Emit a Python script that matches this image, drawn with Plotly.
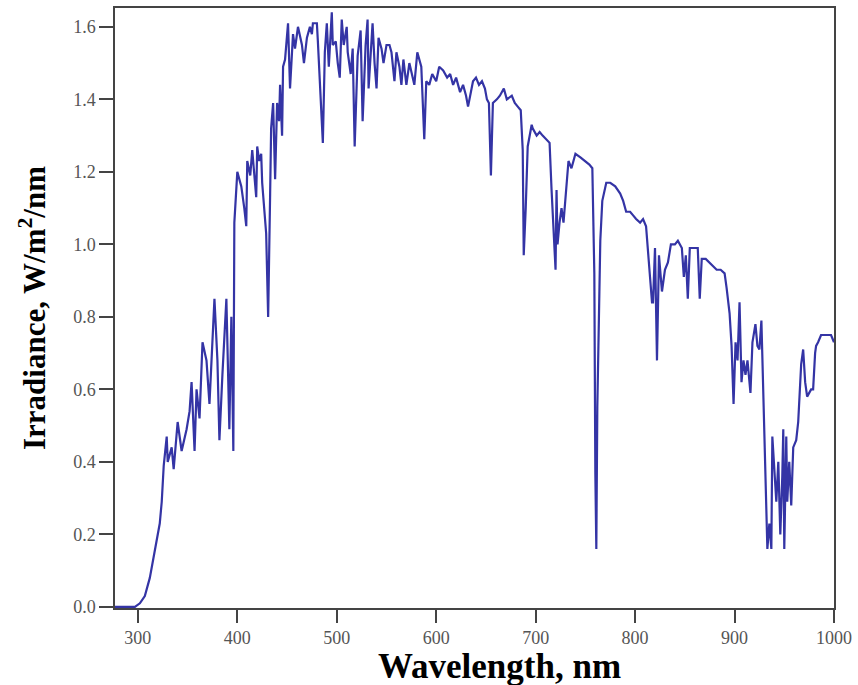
import plotly.graph_objects as go

# Solar spectral irradiance, wavelength in nm and irradiance in W/m^2/nm
wavelength_nm = [
    277, 290, 297, 302, 307, 312, 317, 322, 324, 326, 329, 330, 334, 336, 340, 344,
    349, 352, 354, 357, 359, 362, 365, 369, 372, 377, 380, 382, 385, 389, 392, 394,
    396, 397, 400, 404, 407, 409, 410, 413, 415, 417, 419, 420, 422, 424, 425, 429,
    431, 433, 434, 436, 438, 440, 442, 443, 445, 446, 448, 451, 453, 456, 458, 461,
    465, 467, 470, 473, 475, 476, 480, 481, 483, 486, 488, 490, 492, 495, 496, 499,
    501, 503, 505, 507, 510, 511, 514, 516, 518, 520, 521, 524, 526, 529, 531, 532,
    535, 536, 538, 540, 542, 545, 547, 550, 553, 555, 558, 560, 563, 565, 567, 570,
    573, 576, 578, 581, 585, 588, 590, 593, 596, 600, 603, 607, 611, 614, 617, 620,
    624, 627, 630, 632, 634, 637, 640, 643, 646, 649, 651, 653, 655, 657, 661, 664,
    668, 671, 676, 679, 682, 685, 687, 688, 690, 692, 696, 697, 701, 704, 707, 711,
    714, 716, 718, 720, 721, 722, 724, 726, 728, 730, 733, 736, 740, 745, 750, 754,
    757, 759, 760, 761, 762, 763, 765, 767, 771, 775, 780, 785, 788, 791, 795, 798,
    801, 805, 808, 811, 813, 815, 817, 818, 820, 822, 824, 827, 830, 833, 836, 840,
    843, 847, 849, 851, 853, 855, 859, 863, 865, 867, 871, 875, 878, 882, 886, 890,
    892, 895, 897, 899, 901, 903, 905, 907, 909, 911, 913, 916, 918, 921, 923, 925,
    927, 929, 930, 932, 933, 935, 937, 938, 940, 942, 944, 946, 948, 949, 950, 952,
    953, 955, 957, 959, 962, 964, 967, 969, 971, 973, 977, 979, 981, 982, 984, 987,
    990, 993, 997, 1000,
]
irradiance = [
    0.00, 0.00, 0.00, 0.01, 0.03, 0.08, 0.16, 0.23, 0.29, 0.39, 0.47, 0.40, 0.44, 0.38, 0.51, 0.43,
    0.49, 0.54, 0.62, 0.43, 0.60, 0.52, 0.73, 0.68, 0.56, 0.85, 0.68, 0.46, 0.64, 0.85, 0.49, 0.80,
    0.43, 1.06, 1.20, 1.16, 1.10, 1.05, 1.23, 1.19, 1.26, 1.18, 1.13, 1.27, 1.23, 1.25, 1.17, 1.03,
    0.80, 1.14, 1.32, 1.39, 1.18, 1.39, 1.34, 1.44, 1.30, 1.49, 1.51, 1.61, 1.43, 1.58, 1.54, 1.60,
    1.55, 1.50, 1.57, 1.60, 1.58, 1.61, 1.61, 1.56, 1.45, 1.28, 1.53, 1.61, 1.49, 1.64, 1.55, 1.56,
    1.50, 1.46, 1.62, 1.55, 1.60, 1.53, 1.47, 1.54, 1.27, 1.48, 1.52, 1.59, 1.34, 1.55, 1.62, 1.43,
    1.56, 1.61, 1.50, 1.43, 1.57, 1.54, 1.50, 1.55, 1.55, 1.53, 1.45, 1.53, 1.49, 1.44, 1.51, 1.44,
    1.50, 1.46, 1.44, 1.53, 1.49, 1.29, 1.45, 1.44, 1.47, 1.45, 1.49, 1.48, 1.46, 1.47, 1.44, 1.46,
    1.42, 1.44, 1.41, 1.38, 1.41, 1.45, 1.46, 1.44, 1.45, 1.43, 1.40, 1.39, 1.19, 1.39, 1.40, 1.41,
    1.43, 1.40, 1.41, 1.39, 1.38, 1.37, 1.26, 0.97, 1.10, 1.27, 1.33, 1.32, 1.30, 1.31, 1.30, 1.29,
    1.28, 1.15, 1.02, 0.93, 1.15, 1.00, 1.06, 1.10, 1.06, 1.13, 1.23, 1.21, 1.25, 1.24, 1.23, 1.22,
    1.21, 0.92, 0.37, 0.16, 0.55, 0.73, 1.01, 1.12, 1.17, 1.17, 1.16, 1.14, 1.12, 1.09, 1.09, 1.08,
    1.07, 1.06, 1.07, 1.05, 0.99, 0.91, 0.84, 0.84, 0.99, 0.68, 0.97, 0.87, 0.93, 0.95, 1.00, 1.00,
    1.01, 0.99, 0.91, 0.97, 0.85, 0.99, 0.99, 0.99, 0.85, 0.96, 0.96, 0.95, 0.94, 0.93, 0.93, 0.92,
    0.88, 0.81, 0.72, 0.56, 0.73, 0.68, 0.84, 0.62, 0.68, 0.64, 0.68, 0.59, 0.73, 0.78, 0.72, 0.71,
    0.79, 0.57, 0.41, 0.27, 0.16, 0.23, 0.16, 0.47, 0.38, 0.29, 0.40, 0.20, 0.36, 0.49, 0.16, 0.47,
    0.29, 0.40, 0.28, 0.44, 0.46, 0.51, 0.67, 0.71, 0.62, 0.58, 0.60, 0.60, 0.70, 0.72, 0.73, 0.75,
    0.75, 0.75, 0.75, 0.73,
]

x_ticks = [300, 400, 500, 600, 700, 800, 900, 1000]
y_ticks = [0.0, 0.2, 0.4, 0.6, 0.8, 1.0, 1.2, 1.4, 1.6]

fig = go.Figure()
fig.add_trace(go.Scatter(
    x=wavelength_nm, y=irradiance, mode="lines",
    line=dict(color="rgb(52,52,165)", width=2.2),
    showlegend=False,
))

tick_font = dict(family="Liberation Serif", size=18, color="#555555")

fig.update_layout(
    width=858, height=685,
    margin=dict(l=115, r=22, t=6, b=77),
    paper_bgcolor="white", plot_bgcolor="white",
    xaxis=dict(
        range=[277, 1000], tickvals=x_ticks, ticktext=[str(v) for v in x_ticks],
        ticks="outside", ticklen=13, tickcolor="#444", tickwidth=1.5,
        showline=True, linecolor="#444", linewidth=1.5, mirror=True,
        showgrid=False, zeroline=False, tickfont=tick_font,
    ),
    yaxis=dict(
        range=[-0.003, 1.652], tickvals=y_ticks, ticktext=[f"{v:.1f}" for v in y_ticks],
        ticks="outside", ticklen=14, tickcolor="#444", tickwidth=1.5,
        showline=True, linecolor="#444", linewidth=1.5, mirror=True,
        showgrid=False, zeroline=False, tickfont=tick_font,
        title=dict(text="<b>Irradiance, W/m<sup>2</sup>/nm</b>",
                   font=dict(family="Liberation Serif", size=31, color="black"),
                   standoff=18),
    ),
)

# x-axis title placed as an annotation, slightly right of the plot centre
fig.add_annotation(
    text="<b>Wavelength, nm</b>", xref="paper", yref="paper",
    x=0.535, y=-0.097, xanchor="center", yanchor="middle", showarrow=False,
    font=dict(family="Liberation Serif", size=35, color="black"),
)

fig.write_html("out.html")
